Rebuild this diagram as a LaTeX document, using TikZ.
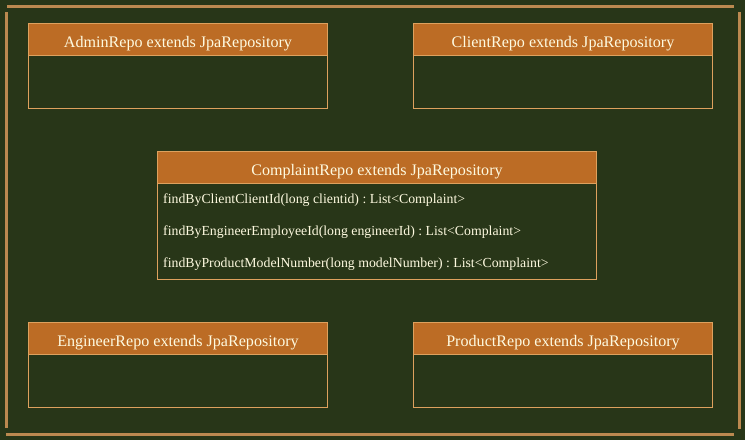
\documentclass[tikz,border=0pt]{standalone}
\usepackage{fontspec}
\setmainfont{Liberation Serif}
\frenchspacing
\definecolor{bg}{HTML}{283618}
\definecolor{hdr}{HTML}{BC6C25}
\definecolor{edge}{HTML}{DDA15E}
\definecolor{txt}{HTML}{FEFAE0}
\begin{document}
\begin{tikzpicture}[x=1pt,y=-1pt,
  hdrbox/.style={draw=edge,fill=hdr,line width=1pt,anchor=north west,inner sep=0pt,
    text=txt,font=\fontsize{16.1}{19}\selectfont,text height=18.4pt,text depth=2pt},
  bodybox/.style={draw=edge,fill=bg,line width=1pt,anchor=north west,inner sep=0pt},
  method/.style={anchor=west,inner sep=0pt,text=txt,font=\fontsize{13.8}{16}\selectfont},
  frameline/.style={draw=edge!85!black,line width=3pt}]
\fill[bg] (0,0) rectangle (745,440);
\useasboundingbox (0,0) rectangle (745,440);
% outer frame
\coordinate (t1) at (7,6.5); \coordinate (t2) at (734,6.5);
\coordinate (r1) at (739,12); \coordinate (r2) at (739,429);
\coordinate (b1) at (6,434); \coordinate (b2) at (734,434);
\coordinate (l1) at (6.5,12); \coordinate (l2) at (6.5,428);
\draw[frameline] (t1) -- (t2);
\draw[frameline] (r1) -- (r2);
\draw[frameline] (b1) -- (b2);
\draw[frameline] (l1) -- (l2);
% Admin
\node[bodybox,minimum width=299pt,minimum height=53pt] (adminb) at (28,54.5) {};
\node[hdrbox,minimum width=299pt,minimum height=32pt] (adminh) at (28,22.5) {AdminRepo extends JpaRepository};
% Client
\node[bodybox,minimum width=299pt,minimum height=53pt] (clientb) at (413,54.5) {};
\node[hdrbox,minimum width=299pt,minimum height=32pt] (clienth) at (413,22.5) {ClientRepo extends JpaRepository};
% Complaint
\node[bodybox,minimum width=439pt,minimum height=96.5pt] (complb) at (157,182.5) {};
\node[hdrbox,minimum width=439pt,minimum height=32pt] (complh) at (157,150.5) {ComplaintRepo extends JpaRepository};
\node[method] (m1) at (163,200) {findByClientClientId(long clientid) : List<Complaint>};
\node[method] (m2) at (163,232) {findByEngineerEmployeeId(long engineerId) : List<Complaint>};
\node[method] (m3) at (163,264.5) {findByProductModelNumber(long modelNumber) : List<Complaint>};
% Engineer
\node[bodybox,minimum width=299pt,minimum height=53pt] (engb) at (28,354) {};
\node[hdrbox,minimum width=299pt,minimum height=32pt] (engh) at (28,322) {EngineerRepo extends JpaRepository};
% Product
\node[bodybox,minimum width=299pt,minimum height=53pt] (prodb) at (413,354) {};
\node[hdrbox,minimum width=299pt,minimum height=32pt] (prodh) at (413,322) {ProductRepo extends JpaRepository};
\end{tikzpicture}
\end{document}
